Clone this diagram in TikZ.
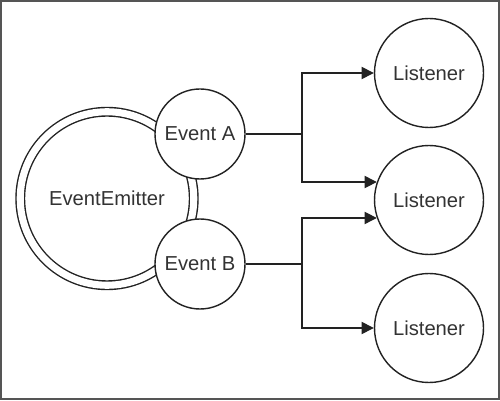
\documentclass[tikz,border=0pt]{standalone}
\usepackage{fontspec}
\setmainfont{Liberation Sans}
\usetikzlibrary{arrows.meta}
\definecolor{ink}{HTML}{222222}
\definecolor{txt}{HTML}{333333}
\definecolor{frame}{HTML}{555555}

\begin{document}
\begin{tikzpicture}[
    >={Triangle[length=7pt,width=7pt]},
    every node/.style={font=\fontsize{11.5}{14}\selectfont,text=txt},
    event/.style={circle,draw=ink,line width=0.8pt,fill=white,minimum size=1.8cm,inner sep=0pt},
    listener/.style={circle,draw=ink,line width=0.8pt,minimum size=2.18cm,inner sep=0pt},
    link/.style={draw=ink,line width=0.8pt}]
    \draw[frame,line width=0.04cm] (0.02,0.02) rectangle (9.98,7.98);
    \node[circle,draw=ink,line width=0.8pt,double,double distance=0.142cm,minimum size=3.47cm] (emitter) at (2.14,4.03) {EventEmitter};
    \node[event] (evA) at (4,5.32) {Event A};
    \node[event] (evB) at (4,2.72) {Event B};
    \node[listener] (lsA) at (8.58,6.54) {Listener};
    \node[listener] (lsB) at (8.58,4) {Listener};
    \node[listener] (lsC) at (8.58,1.44) {Listener};
    \coordinate (jA) at (6.04,5.32);
    \coordinate (jB) at (6.04,2.72);
    \draw[link] (evA) -- (jA);
    \draw[link,->] (jA) |- (lsA);
    \draw[link,->] (jA) |- (lsB.161);
    \draw[link] (evB) -- (jB);
    \draw[link,->] (jB) |- (lsB.199);
    \draw[link,->] (jB) |- (lsC);
\end{tikzpicture}
\end{document}
